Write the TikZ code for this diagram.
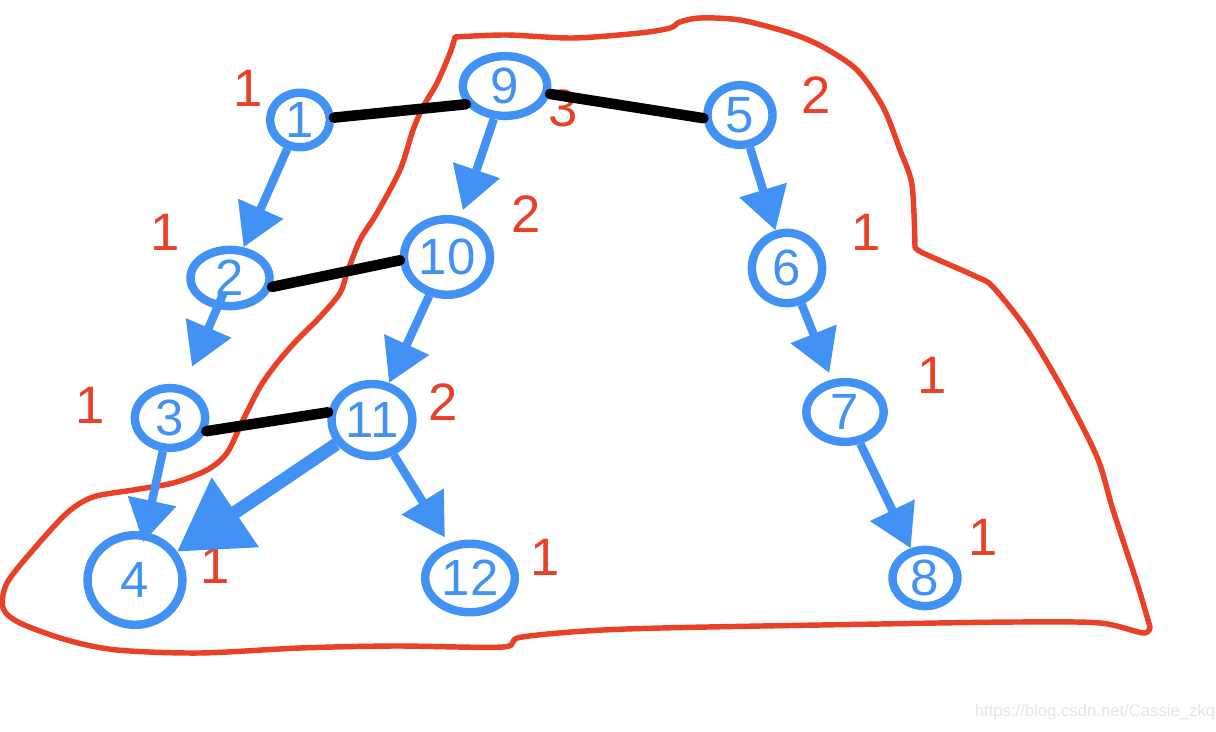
\documentclass[tikz,border=0pt]{standalone}
\usepackage{fontspec}
\setmainfont{Liberation Sans}
\usetikzlibrary{shapes.geometric,arrows.meta}
\definecolor{nodeblue}{RGB}{66,145,245}
\definecolor{hullred}{RGB}{232,65,40}

\begin{document}
\begin{tikzpicture}[x=0.02cm, y=-0.02cm,
  vert/.style={ellipse, draw=nodeblue, line width=4.8pt, text=nodeblue, inner sep=0pt, font=\fontsize{29}{29}\selectfont},
  cnt/.style={text=hullred, inner sep=0pt, font=\fontsize{30}{30}\selectfont},
  link/.style={line width=6pt, line cap=round},
  flow/.style={draw=nodeblue, line width=4.8pt, -{Triangle[width=27pt,length=24pt]}, nodeblue},
  bigflow/.style={draw=nodeblue, line width=7.5pt, -{Triangle[width=46pt,length=40pt]}, nodeblue},
]
  \useasboundingbox (0,0) rectangle (1216,732);

  % red outline
  \draw[hullred, line width=3.1pt, line join=round]
    plot[smooth, tension=0.5] coordinates {
      (455,37) (507,35) (573,38) (640,33) (670,28) (680,22) (700,18) (740,20)
      (790,33) (823,47) (857,70) (883,107) (900,150) (912,185) (915,247) }
    -- plot[smooth, tension=0.5] coordinates {
      (915,247) (923,253) (977,277) (993,287) (1027,330) (1063,390)
      (1097,457) (1113,510) (1137,583) (1150,627) }
    -- plot[smooth, tension=0.5] coordinates {
      (1150,627) (1143,633) (1100,623) (1017,622) (880,624) (626,629)
      (522,637) (503,647) (395,646) (300,648) (200,653) (117,650) (67,640)
      (20,623) (3,608) (7,583) (33,550) (67,513) (93,497) (133,490)
      (173,483) (207,470) (227,453) (243,420) (260,387) (277,363)
      (297,340) (320,317) (340,293) (347,273) (360,240) (377,213)
      (400,170) (413,130) (423,107) (437,83) (450,53) (455,37) }
    -- cycle;

  % vertices
  \node[vert, minimum width=34pt, minimum height=31pt] (v1) at (300,120) {1};
  \node[vert, minimum width=48pt, minimum height=34pt] (v9) at (505,86) {9};
  \node[vert, minimum width=37pt, minimum height=34pt] (v5) at (740,115) {5};
  \node[vert, minimum width=45pt, minimum height=32pt] (v2) at (230,278) {2};
  \node[vert, minimum width=49pt, minimum height=43pt] (v10) at (447,257) {10};
  \node[vert, minimum width=40pt, minimum height=40pt] (v6) at (787,268) {6};
  \node[vert, minimum width=40pt, minimum height=34pt] (v3) at (170,418) {3};
  \node[vert, minimum width=46pt, minimum height=41pt] (v11) at (372,420) {11};
  \node[vert, minimum width=44pt, minimum height=34pt] (v7) at (845,412) {7};
  \node[vert, minimum width=54pt, minimum height=51pt] (v4) at (135,580) {4};
  \node[vert, minimum width=51pt, minimum height=39pt] (v12) at (470,578) {12};
  \node[vert, minimum width=37pt, minimum height=32pt] (v8) at (925,578) {8};

  % counts
  \node[cnt] (c1) at (248,88) {1};
  \node[cnt] (c9) at (563,108) {3};
  \node[cnt] (c5) at (816,95) {2};
  \node[cnt] (c2) at (165,232) {1};
  \node[cnt] (c10) at (526,214) {2};
  \node[cnt] (c6) at (866,232) {1};
  \node[cnt] (c3) at (90,405) {1};
  \node[cnt] (c11) at (443,402) {2};
  \node[cnt] (c7) at (932,375) {1};
  \node[cnt] (c4) at (215,565) {1};
  \node[cnt] (c12) at (545,557) {1};
  \node[cnt] (c8) at (983,537) {1};

  % black links
  \draw[link] (v1.4) -- (v9.205);
  \draw[link] (v9.-10) -- (v5.185);
  \draw[link] (v2.-12) -- (v10.184);
  \draw[link] (v3.-20) -- (v11.170);

  % blue arrows
  \draw[flow] (v1) -- (v2);
  \draw[flow, shorten >=4pt] (v9) -- (v10);
  \draw[flow] (v5) -- (v6);
  \draw[flow, shorten <=-10pt, shorten >=12pt] (v2) -- (v3);
  \draw[flow] (v10) -- (v11);
  \draw[flow, shorten >=4pt] (v6) -- (v7);
  \draw[flow, shorten >=-6pt] (v3) -- (v4);
  \draw[bigflow] (v11) -- (v4);
  \draw[flow, shorten >=4pt] (v11) -- (v12);
  \draw[flow] (v7) -- (v8);

  \node[text=black!10, font=\fontsize{9.5}{10}\selectfont] (mark) at (1095,712) {https://blog.csdn.net/Cassie\_zkq};
\end{tikzpicture}
\end{document}
